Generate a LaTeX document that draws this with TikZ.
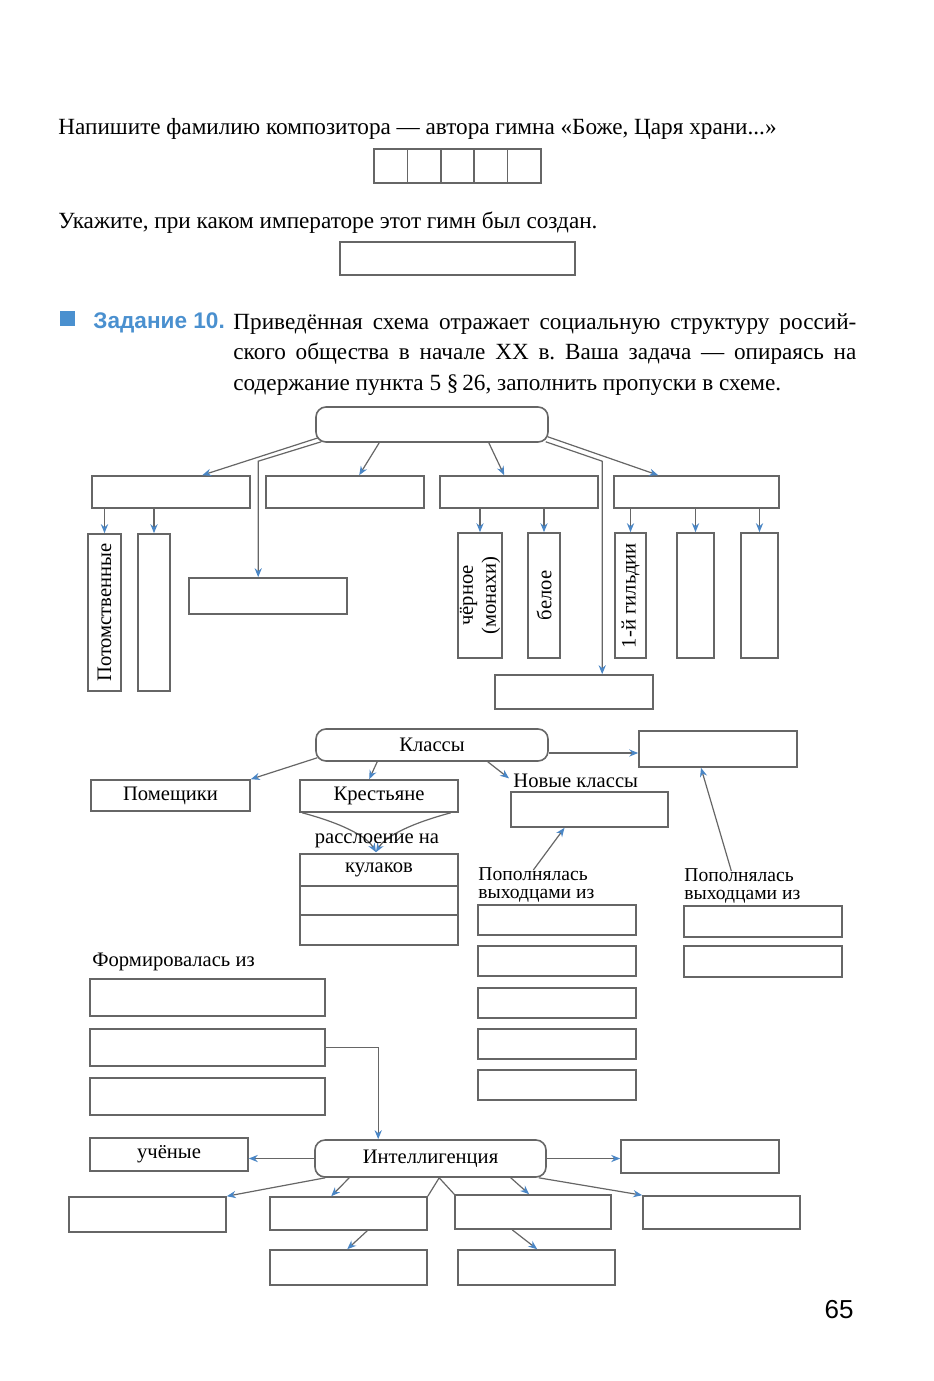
\documentclass[tikz,border=0pt]{standalone}
\usepackage{fontspec}
\setmainfont{Liberation Serif}
\setsansfont{Liberation Sans}
\usetikzlibrary{arrows.meta,fit,calc}

\definecolor{linegray}{HTML}{666666}
\definecolor{tipblue}{HTML}{4A86C5}
\definecolor{taskblue}{HTML}{4A90CF}

\tikzset{
  cell/.style={draw=linegray, line width=0.8pt, inner sep=0pt},
  hub/.style={draw=linegray, line width=0.8pt, inner sep=0pt, rounded corners=5pt},
  arr/.style={draw=linegray, line width=0.6pt, -{Stealth[length=4.5pt,width=3.6pt,color=tipblue]}},
  conn/.style={draw=linegray, line width=0.6pt},
  lbl/.style={font=\fontsize{10.3}{11.5}\selectfont, inner sep=0pt},
  small/.style={font=\fontsize{9.8}{9.2}\selectfont, inner sep=0pt},
  bodytext/.style={font=\fontsize{11.6}{15.25}\selectfont, inner sep=0pt},
}

\begin{document}
\frenchspacing
\begin{tikzpicture}[x=0.5pt, y=-0.5pt]
  \useasboundingbox (0,0) rectangle (933,1381);

  % questions above the task
  \node[bodytext, anchor=base west] (q1) at (58,134)
    {Напишите фамилию композитора — автора гимна «Боже, Царя храни...»};
  \foreach \i in {0,...,4}
    \node[cell, fit={(374+\i*33.4,149) (407.4+\i*33.4,183)}] (c\i) {};
  \node[bodytext, anchor=base west] (q2) at (58,228)
    {Укажите, при каком императоре этот гимн был создан.};
  \node[cell, fit={(340,242) (575,275)}] (emp) {};

  % task heading
  \fill[taskblue] (60,311) rectangle (75,326);
  \node[anchor=base west, inner sep=0pt, text=taskblue,
        font=\sffamily\bfseries\fontsize{11.3}{13}\selectfont] (task) at (93,328) {Задание 10.};
  \node[bodytext, anchor=north west, text width=311.5pt, align=justify] (txt) at (233,313)
    {Приведённая схема отражает социальную структуру россий-\linebreak
     ского общества в начале XX в. Ваша задача — опираясь на\linebreak
     содержание пункта 5 \S\,26, заполнить пропуски в схеме.};

  % first scheme
  \node[hub, fit={(316,407) (548,442)}] (soc) {};
  \node[cell, fit={(92,476) (250,508)}] (b1) {};
  \node[cell, fit={(266,476) (424,508)}] (b2) {};
  \node[cell, fit={(440,476) (598,508)}] (b3) {};
  \node[cell, fit={(614,476) (779,508)}] (b4) {};
  \node[cell, fit={(189,578) (347,614)}] (b5) {};
  \node[cell, fit={(495,675) (653,709)}] (b6) {};

  \node[cell, fit={(88,534) (121,691)}, label={[lbl, rotate=90]center:Потомственные}] (v1) {};
  \node[cell, fit={(138,534) (170,691)}] (v2) {};
  \node[cell, fit={(458,533) (502,658)}, label={[lbl, rotate=90, align=center]center:чёрное\\(монахи)}] (v3) {};
  \node[cell, fit={(528,533) (560,658)}, label={[lbl, rotate=90]center:белое}] (v4) {};
  \node[cell, fit={(615,533) (646,658)}, label={[lbl, rotate=90]center:1-й гильдии}] (v5) {};
  \node[cell, fit={(677,533) (714,658)}] (v6) {};
  \node[cell, fit={(741,533) (778,658)}] (v7) {};

  \draw[arr] ($(soc.south west)+(3,-5)$) -- ($(b1.north west)+(111,0)$);
  \draw[arr] ($(soc.south west)+(6,-1)$) -- ($(b5.north west)+(70,-116)$) -- ($(b5.north west)+(70,0)$);
  \draw[arr] ($(soc.south west)+(64,0)$) -- ($(b2.north west)+(94,0)$);
  \draw[arr] ($(soc.south east)+(-60,0)$) -- ($(b3.north west)+(65,0)$);
  \draw[arr] ($(soc.south east)+(-3,-1)$) -- ($(b6.north west)+(108,-213)$) -- ($(b6.north west)+(108,0)$);
  \draw[arr] ($(soc.south east)+(-1,-6)$) -- ($(b4.north west)+(45,0)$);
  \foreach \v/\b in {v1/b1, v2/b1, v3/b3, v4/b3, v5/b4, v6/b4, v7/b4}
    \draw[arr] (\v.north |- \b.south) -- (\v.north);

  % classes
  \node[hub, fit={(316,729) (548,761)}, label={[lbl]center:Классы}] (cls) {};
  \node[cell, fit={(91,780) (250,811)}, label={[lbl]center:Помещики}] (pom) {};
  \node[cell, fit={(300,780) (458,812)}, label={[lbl]center:Крестьяне}] (kr) {};
  \node[lbl, anchor=base west] (novlbl) at (513,787) {Новые классы};
  \node[cell, fit={(511,792) (668,827)}] (nov) {};
  \node[cell, fit={(639,731) (797,767)}] (rt) {};

  \draw[arr] ($(cls.south west)+(2,-4)$) -- (pom.north east);
  \draw[arr] ($(cls.south west)+(62,0)$) -- ($(kr.north west)+(70,0)$);
  \draw[arr] ($(cls.south east)+(-61,0)$) -- ($(novlbl.west)+(-4,-2)$);
  \draw[arr] ($(cls.east)+(0,8)$) -- ($(rt.west)+(0,4)$);

  \node[cell, fit={(300,854) (458,886)}, label={[lbl]center:кулаков}] (kul1) {};
  \node[cell, fit={(300,886) (458,915)}] (kul2) {};
  \node[cell, fit={(300,915) (458,945)}] (kul3) {};
  \draw[arr] ($(kr.south west)+(3,0)$) .. controls +(45,12) and +(-8,-14) .. ($(kul1.north)+(-3,-1)$);
  \draw[arr] ($(kr.south east)+(-8,0)$) .. controls +(-45,12) and +(8,-14) .. ($(kul1.north)+(-3,-1)$);
  \node[lbl, anchor=base] (strat) at (377,843) {расслоение на};

  \node[small, anchor=north west, align=left] (popA) at (478,867) {Пополнялась\\выходцами из};
  \node[small, anchor=north west, align=left] (popB) at (684,868) {Пополнялась\\выходцами из};
  \foreach \y [count=\n] in {905,946,988,1029,1070}
    \node[cell, fit={(478,\y) (636,\y+30)}] (pa\n) {};
  \foreach \y [count=\n] in {906,946}
    \node[cell, fit={(684,\y) (842,\y+31)}] (pb\n) {};
  \draw[arr] ($(popA.north)+(-3,3)$) -- ($(nov.south)+(-25,0)$);
  \draw[arr] ($(popB.north)+(-11,3)$) -- ($(rt.south)+(-17,0)$);

  % intelligentsia
  \node[lbl, anchor=base west] (frm) at (92,966) {Формировалась из};
  \foreach \y [count=\n] in {979,1029,1078}
    \node[cell, fit={(90,\y) (325,\y+37)}] (frm\n) {};

  \node[hub, fit={(315,1140) (546,1177)}, label={[lbl]center:Интеллигенция}] (int) {};
  \node[cell, fit={(90,1138) (248,1171)}, label={[lbl]center:учёные}] (uch) {};
  \node[cell, fit={(621,1140) (779,1173)}] (r1) {};
  \node[cell, fit={(69,1197) (226,1232)}] (d1) {};
  \node[cell, fit={(270,1197) (427,1230)}] (d2) {};
  \node[cell, fit={(455,1195) (611,1229)}] (d3) {};
  \node[cell, fit={(643,1196) (800,1229)}] (d4) {};
  \node[cell, fit={(270,1250) (427,1285)}] (e1) {};
  \node[cell, fit={(458,1250) (615,1285)}] (e2) {};

  \draw[arr] (frm2.east) -| ($(int.north west)+(64,0)$);
  \draw[arr] (int.west) -- (uch.east |- int.west);
  \draw[arr] (int.east) -- (r1.west |- int.east);
  \draw[arr] ($(int.south west)+(11,0)$) -- (d1.north east);
  \draw[arr] ($(int.south west)+(35,0)$) -- ($(d2.north west)+(62,0)$);
  \draw[conn] (d2.north east) -- ($(int.south west)+(125,0)$) -- (d3.north west);
  \draw[arr] ($(int.south east)+(-36,0)$) -- ($(d3.north west)+(75,0)$);
  \draw[arr] ($(int.south east)+(-8,0)$) -- (d4.north west);
  \draw[arr] ($(d2.south west)+(98,0)$) -- ($(e1.north west)+(78,0)$);
  \draw[arr] ($(d3.south west)+(58,0)$) -- ($(e2.north west)+(80,0)$);

  % page number
  \node[font=\sffamily\fontsize{13}{14}\selectfont, inner sep=0pt] (page) at (839,1310) {65};
\end{tikzpicture}
\end{document}
